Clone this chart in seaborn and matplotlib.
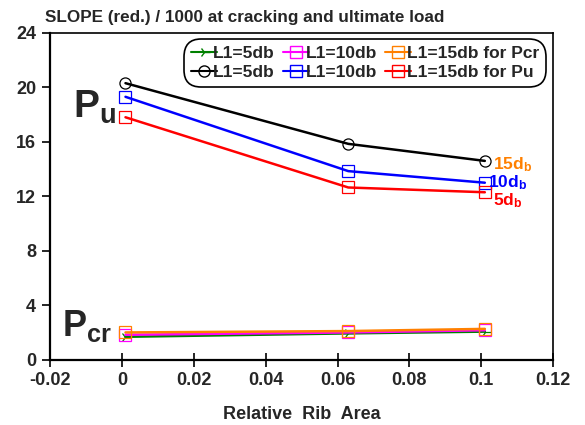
import numpy as np
import pandas as pd
import matplotlib
matplotlib.use("Agg")
import matplotlib.pyplot as plt
import seaborn as sns
from matplotlib.lines import Line2D

sns.set_style("white")
plt.rcParams['font.family'] = ['Liberation Sans', 'DejaVu Sans']
plt.rcParams['mathtext.fontset'] = 'custom'
plt.rcParams['mathtext.rm'] = 'Liberation Sans'
plt.rcParams['mathtext.it'] = 'Liberation Sans:italic'
plt.rcParams['mathtext.bf'] = 'Liberation Sans:bold'

rib_area = [0.001, 0.063, 0.101]
pcr_5db = [1.70, 1.95, 2.08]
pcr_10db = [1.85, 2.02, 2.18]
pcr_15db = [2.02, 2.12, 2.28]
pu_5db = [20.3, 15.85, 14.6]
pu_10db = [19.3, 13.85, 13.0]
pu_15db = [17.8, 12.65, 12.3]

labels = ["L1=5db", "L1=10db", "L1=15db for Pcr",
          "L1=5db", "L1=10db", "L1=15db for Pu"]
series = [pcr_5db, pcr_10db, pcr_15db, pu_5db, pu_10db, pu_15db]
colors = ["#008000", "#ff00ff", "#ff8000", "#000000", "#0000ff", "#ff0000"]
markers = ["4", "s", "s", "o", "s", "s"]

fig = plt.figure(figsize=(5.85, 4.25), dpi=100)
ax = fig.add_axes([0.0855, 0.153, 0.86, 0.77])

for vals, c, m in zip(series, colors, markers):
    df = pd.DataFrame({"x": rib_area, "y": vals})
    sns.lineplot(data=df, x="x", y="y", color=c, marker=m, ax=ax,
                 linewidth=1.8, markersize=8, markerfacecolor="none",
                 markeredgecolor=c, markeredgewidth=0.9, legend=False)

handles = [Line2D([], [], color=c, marker=m, markerfacecolor="none",
                  markeredgecolor=c, lw=1.5, markersize=8)
           for c, m in zip(colors, markers)]
# legend fills column-wise: reorder so rows are Pcr / Pu
order = [0, 3, 1, 4, 2, 5]
leg = ax.legend([handles[i] for i in order], [labels[i] for i in order], ncol=3,
                loc="upper right", bbox_to_anchor=(0.99, 0.985),
                frameon=True, fancybox=True, handlelength=1.5,
                handletextpad=-0.2, columnspacing=0.45,
                prop={"weight": "bold", "size": 12.5}, labelspacing=0.2,
                borderpad=0.2, borderaxespad=0.3)
leg.get_frame().set_edgecolor("black")
leg.get_frame().set_linewidth(1.2)
leg.get_frame().set_boxstyle("round,pad=0.2,rounding_size=1.0")
leg.get_frame().set_alpha(1)

ax.set_xlim(-0.02, 0.12)
ax.set_ylim(0, 24)
ax.set_xticks([-0.02, 0, 0.02, 0.04, 0.06, 0.08, 0.1, 0.12])
ax.set_xticklabels(["-0.02", "0", "0.02", "0.04", "0.06", "0.08", "0.1", "0.12"])
ax.set_yticks([0, 4, 8, 12, 16, 20, 24])
ax.tick_params(axis="both", direction="out", length=6, width=1.2,
               labelsize=13, bottom=True, left=True, color="black", pad=4)
ax.tick_params(axis="x", direction="inout", length=10)
for lab in ax.get_xticklabels() + ax.get_yticklabels():
    lab.set_fontweight("bold")
for sp in ax.spines.values():
    sp.set_color("black")
    sp.set_linewidth(1.2)
ax.spines["left"].set_linewidth(1.6)
ax.spines["bottom"].set_linewidth(1.6)

ax.set_xlabel("Relative  Rib  Area", fontsize=13, fontweight="bold", labelpad=12)
ax.set_ylabel("")
fig.text(0.077, 0.948, "SLOPE (red.) / 1000 at cracking and ultimate load",
         fontsize=12.3, fontweight="bold", ha="left", va="baseline")

ax.text(-0.0135, 17.8, r"$\mathbf{P_u}$", fontsize=28, ha="left", va="baseline")
ax.text(-0.0168, 1.75, r"$\mathbf{P_{cr}}$", fontsize=26, ha="left", va="baseline")
ax.text(0.1032, 14.3, r"$\mathbf{15d_b}$", color="#ff8000", fontsize=12.5,
        ha="left", va="center")
ax.text(0.1018, 13.0, r"$\mathbf{10d_b}$", color="#0000ff", fontsize=12.5,
        ha="left", va="center")
ax.text(0.1032, 11.7, r"$\mathbf{5d_b}$", color="#ff0000", fontsize=12.5,
        ha="left", va="center")

fig.savefig("out.png", dpi=100)
